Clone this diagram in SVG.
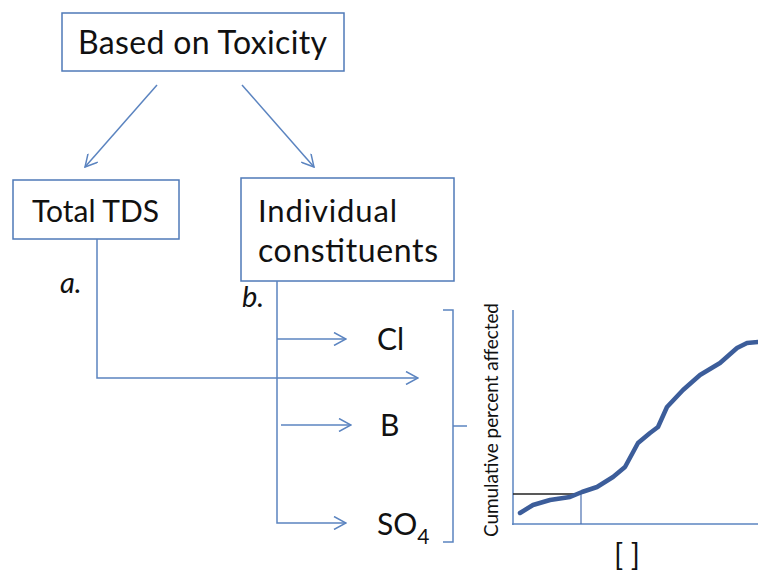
<svg xmlns="http://www.w3.org/2000/svg" width="758" height="571" viewBox="0 0 758 571">
<defs>
<style>
.box{fill:#fff;stroke:#4f7ab8;stroke-width:1.5}
.t{font-family:Lato,"Liberation Sans",sans-serif;fill:#111}
.ln{fill:none;stroke:#5b84c0;stroke-width:1.5}
</style>
<marker id="ah" viewBox="0 0 14 14" refX="13" refY="7" markerWidth="14" markerHeight="14" markerUnits="userSpaceOnUse" orient="auto">
<path d="M1,0.5 L13,7 L1,13.5" fill="none" stroke="#5b84c0" stroke-width="1.5"/>
</marker>
</defs>
<rect width="758" height="571" fill="#fff"/>
<g id="node-toxicity">
<rect class="box" x="62" y="13" width="282" height="58"/>
<text class="t" x="78" y="54" font-size="32" textLength="249">Based on Toxicity</text>
</g>
<g id="node-total">
<rect class="box" x="13" y="180" width="166" height="59"/>
<text class="t" x="32" y="222" font-size="30" textLength="127">Total TDS</text>
</g>
<g id="node-individual">
<rect class="box" x="241" y="178" width="213" height="103"/>
<text class="t" x="258" y="222" font-size="31" textLength="139">Individual</text>
<text class="t" x="258" y="262" font-size="32" textLength="180">constituents</text>
</g>
<g id="labels">
<text class="t" x="60" y="293" font-size="29" font-style="italic">a.</text>
<text class="t" x="242" y="307" font-size="29" font-style="italic">b.</text>
<text class="t" x="377" y="350" font-size="30">Cl</text>
<text class="t" x="380" y="436" font-size="30">B</text>
<text class="t" x="377" y="535" font-size="30">SO<tspan font-size="21" dy="9">4</tspan></text>
</g>
<g id="connectors">
<line class="ln" x1="157" y1="85" x2="85" y2="167" marker-end="url(#ah)"/>
<line class="ln" x1="242" y1="85" x2="314" y2="167" marker-end="url(#ah)"/>
<polyline class="ln" points="97,239 97,378 418,378" marker-end="url(#ah)"/>
<polyline class="ln" points="277,281 277,523 346,523" marker-end="url(#ah)"/>
<line class="ln" x1="277" y1="339" x2="346" y2="339" marker-end="url(#ah)"/>
<line class="ln" x1="281" y1="425" x2="351" y2="425" marker-end="url(#ah)"/>
<polyline class="ln" points="443,310 453,310 453,542 443,542"/>
<line class="ln" x1="453" y1="426" x2="467" y2="426"/>
</g>
<g id="chart">
<line x1="513" y1="310" x2="513" y2="525" stroke="#5b84c0" stroke-width="1.5"/>
<line x1="512" y1="524" x2="758" y2="524" stroke="#5b84c0" stroke-width="1.5"/>
<line x1="581" y1="492" x2="581" y2="524" stroke="#4a6fb0" stroke-width="1.2"/>
<line x1="513" y1="494" x2="581" y2="494" stroke="#222" stroke-width="1.5"/>
<polyline fill="none" stroke="#3c5d9a" stroke-width="4.5" stroke-linejoin="round" stroke-linecap="round" points="520,513 533,505 550,500 570,497 582,492 597,487 613,477 625,467 638,443 650,433 658,427 667,407 683,390 700,375 720,363 737,348 747,343 758,342"/>
<text class="t" transform="translate(498,420) rotate(-90)" font-size="19" text-anchor="middle" textLength="234">Cumulative percent affected</text>
<text class="t" x="627" y="566" font-size="30" text-anchor="middle">[ ]</text>
</g>
</svg>
